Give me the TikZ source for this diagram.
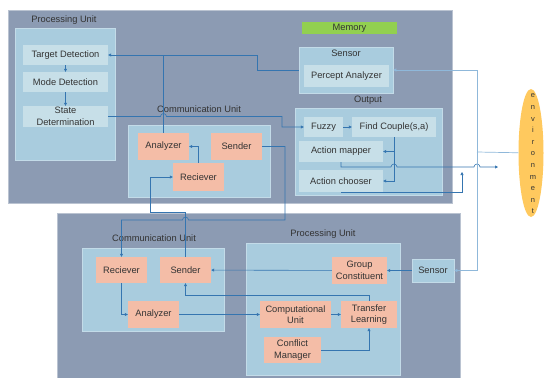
\documentclass[tikz,border=0pt]{standalone}
\usepackage{fontspec}
\setmainfont{Liberation Sans}
\usetikzlibrary{arrows.meta,shapes.geometric}
\definecolor{unitcol}{HTML}{8C9BB3}
\definecolor{partcol}{HTML}{A9CCDE}
\definecolor{plaincol}{HTML}{C7DFE8}
\definecolor{taskcol}{HTML}{F4BDA7}
\definecolor{memcol}{HTML}{92D050}
\definecolor{envcol}{HTML}{FFC95E}
\definecolor{linecol}{HTML}{3575B0}
\definecolor{envline}{HTML}{8FB8DA}
\definecolor{txtcol}{HTML}{333333}
\begin{document}
\begin{tikzpicture}[x=1pt,y=-1pt,
				every node/.style={inner sep=0pt,text=txtcol,font=\fontsize{9.3}{11.5}\selectfont,align=center},
				size/.style 2 args={minimum width=#1pt,minimum height=#2pt},
				unit/.style={fill=unitcol,draw=unitcol!60!white,line width=0.6pt},
				part/.style={fill=partcol,draw=partcol!70!white,line width=0.5pt},
				plain/.style={fill=plaincol},
				task/.style={fill=taskcol},
				link/.style={draw=linecol,line width=0.6pt,-{Triangle[length=3pt,width=3pt]}},
				envlink/.style={draw=envline,line width=0.7pt,-{Triangle[length=3pt,width=3pt]}}]
\useasboundingbox (0,0) rectangle (547,378);
% upper agent
\node[unit, size={444}{193}] (agentU) at (230,106.5) {};
\node at (64,20) {Processing Unit};
\node[part, size={100}{132}] (procU) at (65,94) {};
\node[plain, size={85}{20}] (td) at (65.5,55) {Target Detection};
\node[plain, size={85}{20}] (md) at (65.5,82) {Mode Detection};
\node[plain, size={85}{21}] (sd) at (65.5,116.5) {State\\Determination};
\node at (199,109) {Communication Unit};
\node[part, size={142}{72}] (comU) at (199,161) {};
\node[task, size={51}{27}] (anaU) at (163.5,146.5) {Analyzer};
\node[task, size={51}{27}] (senU) at (236.5,146.5) {Sender};
\node[task, size={51}{28}] (recU) at (198.5,177) {Reciever};
\node[fill=memcol, size={95}{12}] (mem) at (349.5,28) {Memory};
\node[part, size={94}{46}] (sensU) at (346,70) {};
\node at (346,53) {Sensor};
\node[plain, size={85}{22}] (pa) at (346.5,76) {Percept Analyzer};
\node at (368,100) {Output};
\node[part, size={147}{87}] (outU) at (368.5,151.5) {};
\node[plain, size={39}{20}] (fuzzy) at (323.5,127) {Fuzzy};
\node[plain, size={84}{20}] (fc) at (394,127) {Find Couple(s,a)};
\node[plain, size={84}{21}] (am) at (341,151.5) {Action mapper};
\node[plain, size={84}{22}] (ac) at (341,181) {Action chooser};
% environment
\node[ellipse, fill=envcol, size={25}{128}] (env) at (531,153) {};
\node[font=\fontsize{7.5}{11.6}\selectfont] at (533,154) {e\\n\\v\\i\\r\\o\\n\\m\\e\\n\\t};
% lower agent
\node[unit, size={403}{169}] (agentL) at (258.5,297.5) {};
\node at (154,238) {Communication Unit};
\node[part, size={142}{83}] (comL) at (153,289.5) {};
\node[task, size={51}{26}] (recL) at (121.5,270) {Reciever};
\node[task, size={51}{26}] (senL) at (185.5,270) {Sender};
\node[task, size={51}{27}] (anaL) at (153.5,314.5) {Analyzer};
\node at (323,234) {Processing Unit};
\node[part, size={154}{132}] (procL) at (323,309) {};
\node[task, size={55}{27}] (gc) at (359.5,270.5) {Group\\Constituent};
\node[part, size={42}{23}] (sensL) at (433,270.5) {Sensor};
\node[task, size={71}{27}] (cu) at (295.5,314.5) {Computational\\Unit};
\node[task, size={56}{27}] (tl) at (369,314.5) {Transfer\\Learning};
\node[task, size={57}{26}] (cm) at (292.5,350) {Conflict\\Manager};
\coordinate (envTap) at (477,152);
\coordinate (actOut) at (498,167);
\coordinate (chooseOut) at (462,172);
% upper links
\draw[link] (td) -- (md);
\draw[link] (md) -- (sd);
\draw[link] (sensU.west) -- (257,70) |- (td);
\draw[draw=linecol,line width=0.6pt] (anaU.north) -- (anaU.north |- td);
\draw[link] (sd.east) -- (160.5,116.5) arc[start angle=180,end angle=0,radius=3pt] -- (282,116.5) |- (fuzzy);
\draw[link] (recU.north) |- (anaU);
\draw[link] (fuzzy) -- (fc);
\draw[link] (fc.south) |- (ac);
\draw[link] (fc.south |- am) -- (am);
\draw[link] (am.south) -- (341,167) -- (391,167) arc[start angle=180,end angle=0,radius=3pt]
	-- (474,167) arc[start angle=180,end angle=0,radius=3pt] -- (actOut);
\draw[link] (ac.south) -| (chooseOut);
% between agents
\draw[link] (senU.east) -- (285,146.5) -- (285,220) -- (188.5,220) arc[start angle=0,end angle=180,radius=3pt] -- (121.5,220) -- (recL);
\draw[link] (senL.north) -- (185.5,212) -- (150,212) |- (recU);
% environment links
\draw[draw=envline,line width=0.7pt] (envTap) -- (env);
\draw[envlink] (envTap) |- (sensU);
\draw[envlink] (envTap) |- (sensL);
% lower links
\draw[link] (sensL) -- (gc);
\draw[link] (gc) -- (senL);
\draw[link] (tl.north) -- ++(0,-6) -| (senL.south);
\draw[link] (recL.south) |- (anaL);
\draw[link] (anaL) -- (cu);
\draw[link] (cu) -- (tl);
\draw[link] (cm) -| (tl.south);
\end{tikzpicture}
\end{document}
